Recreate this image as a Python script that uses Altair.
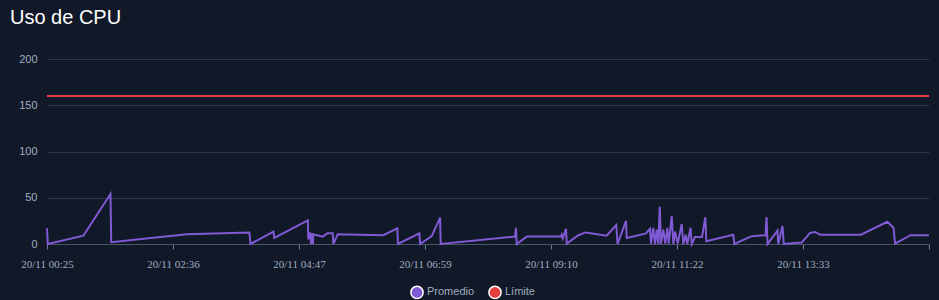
import altair as alt
import pandas as pd

# --- data (minutes after midnight, 20/11) ---
promedio_min = [25, 25.8, 62.9, 91.2, 92, 170.7, 236, 237.2, 261.2, 262,
                297, 297.5, 299.3, 300.3, 301, 302.4, 302.7, 312.5, 317.3, 323,
                323.6, 328.2, 375.7, 390.3, 391, 413.3, 414.2, 426.2, 434.9, 435.6,
                513.1, 514.1, 514.8, 525.3, 561, 561.8, 562.8, 566.3, 567, 579.1,
                586.6, 608.7, 618.7, 620, 628.8, 629.6, 649.7, 653.9, 654.9, 657.3,
                659.1, 660.9, 662.5, 664, 665.3, 667.7, 669.8, 671.9, 673.4, 676.5,
                678.2, 679.9, 682.8, 686.9, 688.6, 691.1, 692.8, 696.1, 697.4, 700.8,
                708.1, 711.5, 712.6, 740.7, 741.8, 759.9, 774.3, 775.4, 776.4, 786.8,
                787.6, 792, 793.3, 812.1, 820.7, 825.9, 831.2, 873.9, 901.3, 907.8,
                909.4, 925.5, 944.8]
promedio_val = [17, 0, 9, 54, 2, 10.5, 12.5, 0, 13.5, 6.5,
                25.5, 5, 12.5, 0, 11.5, 0, 10.5, 8, 11.5, 11.5,
                0, 10.5, 9.5, 17, 0, 11.5, 0, 8.5, 28.5, 0,
                8, 17.5, 0, 8, 8, 10, 6, 16.5, 0.5, 9.5,
                12.5, 9, 20.5, 0, 25, 6.5, 11.5, 16.5, 0, 17.5,
                0, 15.5, 0, 40.5, 0, 15.5, 0.5, 17.5, 0.5, 30.5,
                0, 13.5, 0.5, 21.5, 0, 10, 0, 17.5, 0, 7.5,
                7.5, 29, 3, 10, 0, 8.5, 9.5, 29, 0, 14.5,
                0, 19.5, 0, 1.5, 12, 13, 10, 10, 24, 17.5,
                0.5, 9.5, 9.5]
limite_min = [25, 944.8]
limite_val = [160, 160]

series = ["Promedio", "Límite"]
colors = ["#805ad5", "#e53e3e"]

# x-axis tick positions (minutes after midnight)
tick_min = [25, 156.4, 287.8, 419.2, 550.6, 682, 813.4, 944.8]
y_ticks = [0, 50, 100, 150, 200]

base_day = pd.Timestamp("2024-11-20 00:00:00")


def to_ts(mins):
    return [base_day + pd.Timedelta(minutes=m) for m in mins]


df = pd.concat([
    pd.DataFrame({"t": to_ts(promedio_min), "v": promedio_val, "serie": "Promedio"}),
    pd.DataFrame({"t": to_ts(limite_min), "v": limite_val, "serie": "Límite"}),
], ignore_index=True)


def dt(m):
    total = int(round(m * 60))
    h, rem = divmod(total, 3600)
    mi, s = divmod(rem, 60)
    return alt.DateTime(year=2024, month=11, date=20, hours=h, minutes=mi, seconds=s)


x_domain = [dt(tick_min[0]), dt(tick_min[-1])]
x_values = [dt(m) for m in tick_min]

LABEL = "#a0aec0"
GRID = "#2d3748"
BG = "#111827"

x_enc = alt.X(
    "t:T",
    scale=alt.Scale(domain=x_domain, nice=False),
    axis=alt.Axis(
        title=None, values=x_values, grid=False,
        labelExpr="timeFormat(datum.value, '%H:%M') == '15:44' ? '' : timeFormat(datum.value, '%d/%m %H:%M')",
        labelFont="Liberation Serif", labelFontSize=11, labelColor=LABEL,
        labelPadding=9, tickSize=5, tickColor="#718096", domainColor="#4a5568",
        labelOverlap=False, labelFlush=False,
    ),
)
y_enc = alt.Y(
    "v:Q",
    scale=alt.Scale(domain=[0, 200], nice=False),
    axis=alt.Axis(
        title=None, values=y_ticks, ticks=False, domain=False,
        gridColor=GRID, gridWidth=1,
        labelFont="Liberation Sans", labelFontSize=11, labelColor=LABEL,
        labelPadding=10,
    ),
)

lines = alt.Chart(df).mark_line(strokeWidth=2, interpolate="linear").encode(
    x=x_enc, y=y_enc,
    stroke=alt.Stroke("serie:N", scale=alt.Scale(domain=series, range=colors), legend=None),
    detail="serie:N",
)

legend_layer = alt.Chart(df).transform_filter("false").mark_point(filled=True, opacity=1).encode(
    x="t:T", y="v:Q",
    fill=alt.Fill(
        "serie:N",
        scale=alt.Scale(domain=series, range=colors),
        legend=alt.Legend(
            title=None, orient="none", direction="horizontal",
            legendX=363, legendY=226,
            symbolType="circle", symbolSize=150,
            symbolStrokeColor="#ffffff", symbolStrokeWidth=1.5,
            labelFont="Liberation Sans", labelFontSize=11, labelColor=LABEL,
            labelOffset=3, columnPadding=10,
        ),
    ),
)

chart = alt.layer(lines, legend_layer).resolve_scale(fill="independent", stroke="independent").properties(
    width=882,
    height=185,
    title=alt.TitleParams(
        "Uso de CPU", anchor="start", frame="group", dx=-37, dy=-5,
        font="Liberation Sans", fontSize=20, fontWeight="normal", color="#ffffff",
        baseline="alphabetic",
    ),
    padding={"left": 47, "top": 59, "right": 10, "bottom": 56},
    autosize=alt.AutoSizeParams(type="none"),
    background=BG,
).configure_view(stroke=None)

chart.save("out.html", embed_options={"renderer": "svg", "actions": False})
